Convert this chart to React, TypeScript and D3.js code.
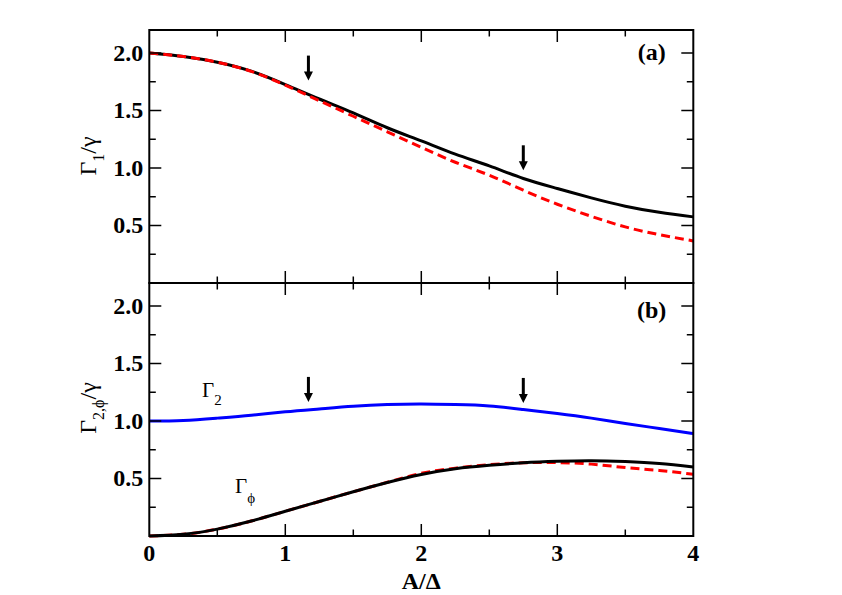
import React from "react";
import * as d3 from "d3";

const xs = [0, 0.25, 0.5, 0.75, 1.0, 1.25, 1.5, 1.75, 2.0, 2.25, 2.5, 2.75, 3.0, 3.25, 3.5, 3.75, 4.0];
const gamma1Full = [2.0, 1.97, 1.92, 1.842, 1.726, 1.6, 1.479, 1.35, 1.235, 1.12, 1.018, 0.909, 0.822, 0.74, 0.668, 0.615, 0.575];
const gamma1Approx = [2.0, 1.97, 1.92, 1.84, 1.72, 1.585, 1.45, 1.315, 1.18, 1.05, 0.937, 0.807, 0.685, 0.58, 0.488, 0.42, 0.366];
const gamma2 = [1.0, 1.005, 1.025, 1.05, 1.08, 1.105, 1.128, 1.143, 1.148, 1.143, 1.131, 1.1, 1.065, 1.025, 0.978, 0.935, 0.891];
const gammaPhiFull = [0, 0.015, 0.06, 0.13, 0.215, 0.3, 0.385, 0.465, 0.535, 0.585, 0.615, 0.637, 0.65, 0.655, 0.647, 0.63, 0.6];
const gammaPhiApprox = [0, 0.015, 0.06, 0.13, 0.215, 0.3, 0.385, 0.467, 0.545, 0.59, 0.62, 0.637, 0.638, 0.625, 0.595, 0.57, 0.537];
const arrowX = [1.17, 2.75];
const arrowTipTop = [1.76, 0.98];
const arrowTipBottom = [1.166, 1.157];
const xMajor = [0, 1, 2, 3, 4];
const xMinor = [0.5, 1.5, 2.5, 3.5];
const yMajor = [0.5, 1.0, 1.5, 2.0];
const yMinor = [0.25, 0.75, 1.25, 1.75];

const W = 842, H = 595;
const L = 149.3, R = 693.3;
const T1 = 30, B1 = 283, T2 = 283, B2 = 536;
const SERIF = "Liberation Serif, Times New Roman, serif";

const x = d3.scaleLinear().domain([0, 4]).range([L, R]);
const y1 = d3.scaleLinear().domain([0, 2.2]).range([B1, T1]);
const y2 = d3.scaleLinear().domain([0, 2.2]).range([B2, T2]);

function lineFor(ys: number[], yScale: d3.ScaleLinear<number, number>) {
  const g = d3.line<number>().x((_, i) => x(xs[i])).y((v) => yScale(v)).curve(d3.curveNatural);
  return g(ys) || "";
}

function Frame({ yScale, top, bottom }: { yScale: d3.ScaleLinear<number, number>; top: number; bottom: number }) {
  const maj = 12, min = 6.5;
  const els: React.ReactNode[] = [];
  xMajor.forEach((v, i) => {
    if (v === 0 || v === 4) return;
    els.push(<line key={"xb" + i} x1={x(v)} x2={x(v)} y1={bottom} y2={bottom - maj} />);
    els.push(<line key={"xt" + i} x1={x(v)} x2={x(v)} y1={top} y2={top + maj} />);
  });
  xMinor.forEach((v, i) => {
    els.push(<line key={"xbm" + i} x1={x(v)} x2={x(v)} y1={bottom} y2={bottom - min} />);
    els.push(<line key={"xtm" + i} x1={x(v)} x2={x(v)} y1={top} y2={top + min} />);
  });
  yMajor.forEach((v, i) => {
    els.push(<line key={"yl" + i} x1={L} x2={L + maj} y1={yScale(v)} y2={yScale(v)} />);
    els.push(<line key={"yr" + i} x1={R} x2={R - maj} y1={yScale(v)} y2={yScale(v)} />);
  });
  yMinor.forEach((v, i) => {
    els.push(<line key={"ylm" + i} x1={L} x2={L + min} y1={yScale(v)} y2={yScale(v)} />);
    els.push(<line key={"yrm" + i} x1={R} x2={R - min} y1={yScale(v)} y2={yScale(v)} />);
  });
  return (
    <g stroke="#000" strokeWidth={1.5}>
      {els}
      <rect x={L} y={top} width={R - L} height={bottom - top} fill="none" strokeWidth={2} />
    </g>
  );
}

function YLabels({ yScale }: { yScale: d3.ScaleLinear<number, number> }) {
  return (
    <g style={{ fontFamily: SERIF, fontWeight: "bold", fontSize: "24px" }} textAnchor="end">
      {yMajor.map((v) => (
        <text key={v} x={L - 6} y={yScale(v)} dy="0.33em">{d3.format(".1f")(v)}</text>
      ))}
    </g>
  );
}

function Arrow({ xv, tip }: { xv: number; tip: number }) {
  const len = 25, hw = 4.5, hl = 9;
  return (
    <g>
      <line x1={xv} x2={xv} y1={tip - len} y2={tip - hl + 1} stroke="#000" strokeWidth={3} />
      <path d={`M${xv - hw},${tip - hl} L${xv + hw},${tip - hl} L${xv},${tip} Z`} fill="#000" />
    </g>
  );
}

export default function App() {
  return (
    <svg width={W} height={H} style={{ position: "absolute", left: 0, top: 0, background: "#fff" }}>
      <rect x={0} y={0} width={W} height={H} fill="#fff" />
      {/* top panel */}
      <path d={lineFor(gamma1Full, y1)} fill="none" stroke="#000" strokeWidth={3} />
      <path d={lineFor(gamma1Approx, y1)} fill="none" stroke="#ff0000" strokeWidth={3} strokeDasharray="9,5" />
      {arrowX.map((v, i) => (
        <Arrow key={"a" + i} xv={x(v)} tip={y1(arrowTipTop[i])} />
      ))}
      {/* bottom panel */}
      <path d={lineFor(gamma2, y2)} fill="none" stroke="#0000ff" strokeWidth={3} />
      <path d={lineFor(gammaPhiApprox, y2)} fill="none" stroke="#ff0000" strokeWidth={3} strokeDasharray="9,5" />
      <path d={lineFor(gammaPhiFull, y2)} fill="none" stroke="#000" strokeWidth={3} />
      {arrowX.map((v, i) => (
        <Arrow key={"b" + i} xv={x(v)} tip={y2(arrowTipBottom[i])} />
      ))}
      <Frame yScale={y1} top={T1} bottom={B1} />
      <Frame yScale={y2} top={T2} bottom={B2} />
      <YLabels yScale={y1} />
      <YLabels yScale={y2} />
      <g style={{ fontFamily: SERIF, fontWeight: "bold", fontSize: "24px" }} textAnchor="middle">
        {xMajor.map((v) => (
          <text key={v} x={x(v)} y={561}>{v}</text>
        ))}
        <text x={(L + R) / 2} y={589}>A/Δ</text>
        <text x={651.7} y={60}>(a)</text>
        <text x={651.7} y={318}>(b)</text>
      </g>
      <g style={{ fontFamily: SERIF, fontSize: "24px" }} textAnchor="middle">
        <text transform="translate(96,156) rotate(-90)">
          Γ<tspan style={{ fontSize: "16px" }} dy={8}>1</tspan><tspan dy={-8}>/γ</tspan>
        </text>
        <text transform="translate(96,408) rotate(-90)">
          Γ<tspan style={{ fontSize: "16px" }} dy={8}>2,ϕ</tspan><tspan dy={-8}>/γ</tspan>
        </text>
      </g>
      <g style={{ fontFamily: SERIF, fontSize: "21px" }}>
        <text x={202} y={397}>Γ<tspan style={{ fontSize: "15px" }} dy={8}>2</tspan></text>
        <text x={235} y={493}>Γ<tspan style={{ fontSize: "15px" }} dy={10}>ϕ</tspan></text>
      </g>
    </svg>
  );
}
